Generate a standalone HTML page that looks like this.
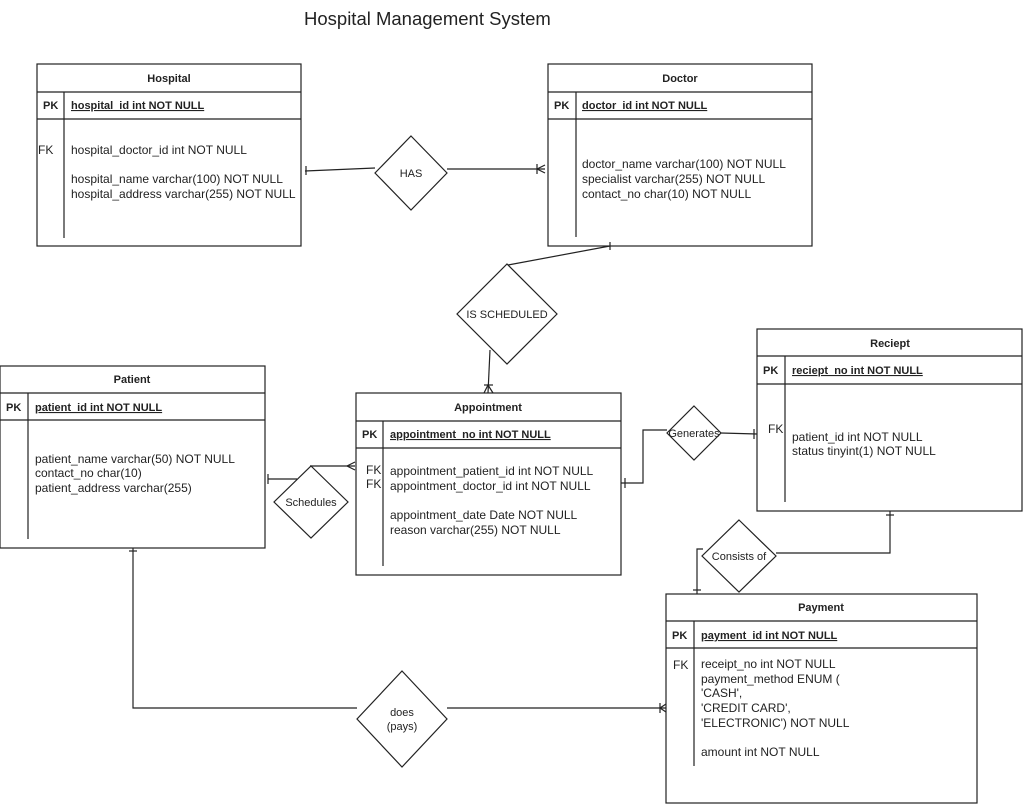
<!DOCTYPE html>
<html><head><meta charset="utf-8"><style>
html,body{margin:0;padding:0;background:#fff;}
svg{display:block;}
text{font-family:"Liberation Sans",Arial,sans-serif;fill:#222;}
.t{font-size:11px;font-weight:bold;}
.f{font-size:12px;}
.b{font-size:11px;font-weight:bold;text-decoration:underline;}
</style></head><body>
<svg width="1024" height="804" viewBox="0 0 1024 804" xmlns="http://www.w3.org/2000/svg">
<g fill="none" stroke="#222" stroke-width="1.2">
<rect x="37" y="64" width="264" height="182"/>
<line x1="37" y1="92" x2="301" y2="92"/><line x1="37" y1="119" x2="301" y2="119"/>
<line x1="64" y1="92" x2="64" y2="238"/>
<rect x="548" y="64" width="264" height="182"/>
<line x1="548" y1="92" x2="812" y2="92"/><line x1="548" y1="119" x2="812" y2="119"/>
<line x1="576" y1="92" x2="576" y2="237"/>
<rect x="757" y="329" width="265" height="182"/>
<line x1="757" y1="356" x2="1022" y2="356"/><line x1="757" y1="384" x2="1022" y2="384"/>
<line x1="785" y1="356" x2="785" y2="502"/>
<rect x="0" y="366" width="265" height="182"/>
<line x1="0" y1="393" x2="265" y2="393"/><line x1="0" y1="420" x2="265" y2="420"/>
<line x1="28" y1="393" x2="28" y2="539"/>
<rect x="356" y="393" width="265" height="182"/>
<line x1="356" y1="421" x2="621" y2="421"/><line x1="356" y1="448" x2="621" y2="448"/>
<line x1="383" y1="421" x2="383" y2="566"/>
<rect x="666" y="594" width="311" height="209"/>
<line x1="666" y1="621" x2="977" y2="621"/><line x1="666" y1="648" x2="977" y2="648"/>
<line x1="694" y1="621" x2="694" y2="766"/>
<polygon points="411,136 447,173 411,210 375,173"/>
<polygon points="507,264 557,314 507,364 457,314"/>
<polygon points="311,466 348,502 311,538 274,502"/>
<polygon points="694,406 721,433 694,460 667,433"/>
<polygon points="739,520 776,556 739,592 702,556"/>
<polygon points="402,671 447,719 402,767 357,719"/>
<line x1="305" y1="171" x2="375" y2="168"/><line x1="306" y1="166" x2="306" y2="175"/>
<line x1="447" y1="169" x2="545" y2="169"/><line x1="537" y1="164" x2="537" y2="174"/>
<polyline points="537,169 545,165"/><polyline points="537,169 545,173"/>
<line x1="610" y1="246" x2="508" y2="265"/><line x1="610" y1="242" x2="610" y2="250"/>
<line x1="490" y1="350" x2="488" y2="393"/><line x1="484" y1="385" x2="493" y2="385"/>
<polyline points="484,393 488,385 493,393"/>
<line x1="268" y1="479" x2="297" y2="479"/><line x1="268" y1="474" x2="268" y2="484"/>
<line x1="310" y1="466" x2="355" y2="466"/><polyline points="355,462 347,466 355,470"/>
<polyline points="621,483 643,483 643,430 667,430"/><line x1="625" y1="478" x2="625" y2="488"/>
<line x1="721" y1="433" x2="757" y2="434"/><line x1="754" y1="429" x2="754" y2="439"/>
<polyline points="697,594 697,549 703,549"/><line x1="693" y1="590" x2="701" y2="590"/>
<polyline points="776,553 890,553 890,511"/><line x1="886" y1="515" x2="894" y2="515"/>
<polyline points="133,548 133,708 357,708"/><line x1="129" y1="551" x2="137" y2="551"/>
<line x1="447" y1="708" x2="666" y2="708"/><line x1="660" y1="703" x2="660" y2="713"/>
<polyline points="666,704 660,708 666,712"/>
</g>
<text x="304" y="25" style="font-size:18.5px">Hospital Management System</text>
<text class="t" x="169" y="82" text-anchor="middle">Hospital</text>
<text class="t" x="43" y="109">PK</text><text class="b" x="71" y="109">hospital_id int NOT NULL</text>
<text class="f" x="38" y="154">FK</text>
<text class="f" x="71" y="154">hospital_doctor_id int NOT NULL</text>
<text class="f" x="71" y="183">hospital_name varchar(100) NOT NULL</text>
<text class="f" x="71" y="198">hospital_address varchar(255) NOT NULL</text>
<text class="t" x="680" y="82" text-anchor="middle">Doctor</text>
<text class="t" x="554" y="109">PK</text><text class="b" x="582" y="109">doctor_id int NOT NULL</text>
<text class="f" x="582" y="168">doctor_name varchar(100) NOT NULL</text>
<text class="f" x="582" y="183">specialist varchar(255) NOT NULL</text>
<text class="f" x="582" y="198">contact_no char(10) NOT NULL</text>
<text class="t" x="890" y="347" text-anchor="middle">Reciept</text>
<text class="t" x="763" y="374">PK</text><text class="b" x="792" y="374">reciept_no int NOT NULL</text>
<text class="f" x="768" y="433">FK</text>
<text class="f" x="792" y="441">patient_id int NOT NULL</text>
<text class="f" x="792" y="455">status tinyint(1) NOT NULL</text>
<text class="t" x="132" y="383" text-anchor="middle">Patient</text>
<text class="t" x="6" y="411">PK</text><text class="b" x="35" y="411">patient_id int NOT NULL</text>
<text class="f" x="35" y="463">patient_name varchar(50) NOT NULL</text>
<text class="f" x="35" y="477">contact_no char(10)</text>
<text class="f" x="35" y="492">patient_address varchar(255)</text>
<text class="t" x="488" y="411" text-anchor="middle">Appointment</text>
<text class="t" x="362" y="438">PK</text><text class="b" x="390" y="438">appointment_no int NOT NULL</text>
<text class="f" x="366" y="474">FK</text><text class="f" x="366" y="488">FK</text>
<text class="f" x="390" y="475">appointment_patient_id int NOT NULL</text>
<text class="f" x="390" y="490">appointment_doctor_id int NOT NULL</text>
<text class="f" x="390" y="519">appointment_date Date NOT NULL</text>
<text class="f" x="390" y="534">reason varchar(255) NOT NULL</text>
<text class="t" x="821" y="611" text-anchor="middle">Payment</text>
<text class="t" x="672" y="639">PK</text><text class="b" x="701" y="639">payment_id int NOT NULL</text>
<text class="f" x="673" y="669">FK</text>
<text class="f" x="701" y="668">receipt_no int NOT NULL</text>
<text class="f" x="701" y="683">payment_method  ENUM (</text>
<text class="f" x="701" y="697">'CASH',</text>
<text class="f" x="701" y="712">'CREDIT CARD',</text>
<text class="f" x="701" y="727">'ELECTRONIC') NOT NULL</text>
<text class="f" x="701" y="756">amount int NOT NULL</text>
<text x="411" y="177" text-anchor="middle" style="font-size:11px">HAS</text>
<text x="507" y="318" text-anchor="middle" style="font-size:11px">IS SCHEDULED</text>
<text x="311" y="506" text-anchor="middle" style="font-size:11px">Schedules</text>
<text x="694" y="437" text-anchor="middle" style="font-size:11px">Generates</text>
<text x="739" y="560" text-anchor="middle" style="font-size:11px">Consists of</text>
<text x="402" y="716" text-anchor="middle" style="font-size:11px">does</text>
<text x="402" y="730" text-anchor="middle" style="font-size:11px">(pays)</text>
</svg>
</body></html>
